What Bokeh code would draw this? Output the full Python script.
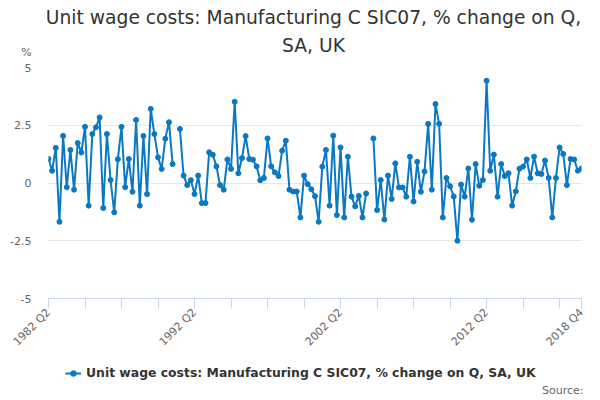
import math
from bokeh.plotting import figure
from bokeh.layouts import column
from bokeh.models import ColumnDataSource, Range1d, FixedTicker, Label, Legend, LegendItem
from bokeh.embed import file_html
from bokeh.resources import INLINE

title_lines = ["Unit wage costs: Manufacturing C SIC07, % change on Q,", "SA, UK"]
series_name = "Unit wage costs: Manufacturing C SIC07, % change on Q, SA, UK"
y_unit = "%"
source_text = "Source:"

# quarterly categories 1982 Q2 .. 2018 Q4
start_year, start_q = 1982, 2
end_year, end_q = 2018, 4
quarters = []
yy, qq = start_year, start_q
while (yy, qq) <= (end_year, end_q):
    quarters.append(f"{yy} Q{qq}")
    qq += 1
    if qq > 4:
        qq = 1
        yy += 1

NA = float("nan")
values = [
    1.04, 0.53, 1.52, -1.68, 2.04, -0.18, 1.43, -0.29, 1.73, 1.32,
    2.43, -0.98, 2.12, 2.41, 2.84, -1.08, 2.12, 0.13, -1.27, 1.03,
    2.43, -0.18, 1.04, -0.38, 2.73, -0.98, 2.04, -0.48, 3.21, 2.12,
    1.11, 0.61, 1.92, 2.63, 0.82, NA, 2.34, 0.32, -0.09, 0.12,
    -0.48, 0.32, -0.87, -0.87, 1.33, 1.22, 0.72, -0.09, -0.29, 1.02,
    0.61, 3.52, 0.42, 1.08, 2.03, 1.04, 1.01, 0.72, 0.12, 0.22,
    1.93, 0.72, 0.46, 0.30, 1.40, 1.83, -0.29, -0.37, -0.37, -1.49,
    0.32, -0.05, -0.27, -0.57, -1.68, 0.71, 1.43, -0.98, 2.05, -1.39,
    1.54, -1.49, 1.14, -0.59, -1.01, -0.56, -1.49, -0.45, NA, 1.93,
    -1.17, 0.13, -1.58, 0.32, -0.69, 0.85, -0.19, -0.19, -0.59, 1.14,
    -0.80, 0.92, -0.38, 0.50, 2.56, -0.29, 3.42, 2.56, -1.49, 0.22,
    -0.14, -0.58, -2.50, -0.07, -0.59, 0.63, -1.59, 0.82, -0.12, 0.13,
    4.43, 0.53, 1.23, -0.59, 0.82, 0.30, 0.42, -0.98, -0.36, 0.62,
    0.71, 1.02, 0.22, 1.14, 0.42, 0.39, 0.97, 0.22, -1.49, 0.22,
    1.54, 1.26, -0.09, 1.04, 1.02, 0.53, 0.63,
]

x_tick_labels = ["1982 Q2", "1992 Q2", "2002 Q2", "2012 Q2", "2018 Q4"]
y_ticks = [-5, -2.5, 0, 2.5, 5]
y_tick_labels = ["-5", "-2.5", "0", "2.5", "5"]

FONT = "DejaVu Sans"
BLUE = "#0a78c2"
W = 600

n = len(quarters)
src = ColumnDataSource(dict(x=list(range(n)), y=values, q=quarters))


def no_align(f):
    try:
        f.frame_align = False
    except Exception:
        pass


def blank_fig(h):
    f = figure(width=W, height=h, output_backend="svg", toolbar_location=None,
               x_range=Range1d(0, W), y_range=Range1d(h, 0),
               x_axis_location=None, y_axis_location=None,
               min_border=0, min_border_left=0, min_border_right=0,
               min_border_top=0, min_border_bottom=0)
    f.outline_line_color = None
    f.grid.visible = False
    f.background_fill_color = "white"
    f.border_fill_color = "white"
    no_align(f)
    return f


# ---- top: title and unit ----
TOP_H = 60
top = blank_fig(TOP_H)
top.add_layout(Label(x=313, y=17, text=title_lines[0], text_align="center",
                     text_baseline="middle", text_font=FONT, text_font_size="18.7px",
                     text_color="#333333"))
top.add_layout(Label(x=313, y=45, text=title_lines[1], text_align="center",
                     text_baseline="middle", text_font=FONT, text_font_size="18.7px",
                     text_color="#333333"))
top.add_layout(Label(x=26, y=52, text=y_unit, text_align="center",
                     text_baseline="middle", text_font=FONT, text_font_size="11px",
                     text_color="#666666"))

# ---- middle: the chart ----
p = figure(width=W, height=302, output_backend="svg", toolbar_location=None,
           x_range=Range1d(0, n - 1), y_range=Range1d(-5, 5),
           min_border_left=48, min_border_right=19, min_border_top=7,
           min_border_bottom=64)
p.outline_line_color = None
p.background_fill_color = "white"
p.border_fill_color = "white"
no_align(p)

p.line("x", "y", source=src, line_color=BLUE, line_width=2)
p.scatter("x", "y", source=src, size=5, fill_color=BLUE, line_color=BLUE)

xt = list(range(0, n, 10))
if xt[-1] != n - 1:
    xt.append(n - 1)
p.xaxis.ticker = FixedTicker(ticks=xt, minor_ticks=[])
p.xaxis.major_label_overrides = {t: (quarters[t] if quarters[t] in x_tick_labels else "") for t in xt}
p.xaxis.major_label_orientation = math.pi / 4
p.xaxis.axis_line_color = "#ccd6eb"
p.xaxis.major_tick_line_color = "#ccd6eb"
p.xaxis.major_tick_out = 10
p.xaxis.major_tick_in = 0
p.xaxis.minor_tick_line_color = None
p.xaxis.major_label_text_font = FONT
p.xaxis.major_label_text_font_size = "11px"
p.xaxis.major_label_text_color = "#666666"
p.xaxis.major_label_standoff = 2

p.yaxis.ticker = FixedTicker(ticks=y_ticks, minor_ticks=[])
p.yaxis.major_label_overrides = {t: l for t, l in zip(y_ticks, y_tick_labels)}
p.yaxis.axis_line_color = None
p.yaxis.major_tick_line_color = None
p.yaxis.minor_tick_line_color = None
p.yaxis.major_tick_out = 0
p.yaxis.major_tick_in = 0
p.yaxis.major_label_standoff = 17
p.yaxis.major_label_text_font = FONT
p.yaxis.major_label_text_font_size = "11px"
p.yaxis.major_label_text_color = "#666666"

p.xgrid.grid_line_color = None
p.ygrid.grid_line_color = "#e6e6e6"
p.ygrid.grid_line_width = 1

# ---- bottom: legend and source ----
BOT_H = 38
bot = blank_fig(BOT_H)
bot.extra_y_ranges = {"off": Range1d(1000, 2000)}
lg_line = bot.line("x", "y", source=src, line_color=BLUE, line_width=2, y_range_name="off")
lg_dot = bot.scatter("x", "y", source=src, size=5, fill_color=BLUE, line_color=BLUE,
                     y_range_name="off")
legend = Legend(items=[LegendItem(label=series_name, renderers=[lg_line, lg_dot])],
                location=(65, 20), orientation="horizontal",
                border_line_alpha=0, background_fill_alpha=0, padding=0, margin=0,
                spacing=0, glyph_width=16, glyph_height=14, label_height=14,
                label_standoff=5, label_text_font=FONT, label_text_font_size="12.4px",
                label_text_font_style="bold", label_text_color="#333333")
bot.add_layout(legend)
bot.add_layout(Label(x=583, y=28, text=source_text, text_align="right",
                     text_baseline="middle", text_font=FONT, text_font_size="11px",
                     text_color="#666666"))

layout = column(top, p, bot, spacing=0)
open("out.html", "w").write(file_html(layout, INLINE))
